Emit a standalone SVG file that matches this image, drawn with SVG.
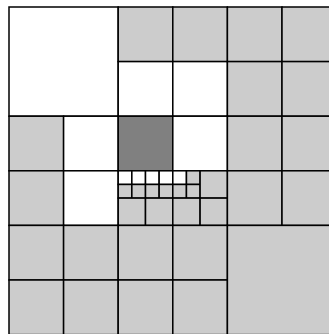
<svg xmlns="http://www.w3.org/2000/svg" width="329" height="334" viewBox="0 0 329 334">
<style>
rect{stroke:#000;stroke-width:1.5}
.w{fill:#fff}
.g{fill:#cccccc}
.d{fill:#808080}
</style>
<rect x="0" y="0" width="329" height="334" fill="#fff" style="stroke:none"/>
<g id="q-tl"><rect class="w" x="9" y="7" width="109.2" height="109.2"/></g>
<g id="q-tm">
<rect class="g" x="118.2" y="7" width="54.6" height="54.6"/>
<rect class="g" x="172.8" y="7" width="54.6" height="54.6"/>
<rect class="w" x="118.2" y="61.6" width="54.6" height="54.6"/>
<rect class="w" x="172.8" y="61.6" width="54.6" height="54.6"/>
</g>
<g id="q-tr">
<rect class="g" x="227.4" y="7" width="54.6" height="54.6"/>
<rect class="g" x="282" y="7" width="54.6" height="54.6"/>
<rect class="g" x="227.4" y="61.6" width="54.6" height="54.6"/>
<rect class="g" x="282" y="61.6" width="54.6" height="54.6"/>
</g>
<g id="q-ml">
<rect class="g" x="9" y="116.2" width="54.6" height="54.6"/>
<rect class="w" x="63.6" y="116.2" width="54.6" height="54.6"/>
<rect class="g" x="9" y="170.8" width="54.6" height="54.6"/>
<rect class="w" x="63.6" y="170.8" width="54.6" height="54.6"/>
</g>
<g id="q-mm">
<rect class="d" x="118.2" y="116.2" width="54.6" height="54.6"/>
<rect class="w" x="172.8" y="116.2" width="54.6" height="54.6"/>
</g>
<g id="q-mm-sub1">
<rect class="w" x="118.2" y="170.8" width="13.65" height="13.65"/>
<rect class="w" x="131.85" y="170.8" width="13.65" height="13.65"/>
<rect class="w" x="145.5" y="170.8" width="13.65" height="13.65"/>
<rect class="w" x="159.15" y="170.8" width="13.65" height="13.65"/>
<rect class="g" x="118.2" y="184.45" width="13.65" height="13.65"/>
<rect class="g" x="131.85" y="184.45" width="13.65" height="13.65"/>
<rect class="g" x="145.5" y="184.45" width="13.65" height="13.65"/>
<rect class="g" x="159.15" y="184.45" width="13.65" height="13.65"/>
<rect class="g" x="118.2" y="198.1" width="27.3" height="27.3"/>
<rect class="g" x="145.5" y="198.1" width="27.3" height="27.3"/>
</g>
<g id="q-mm-sub2">
<rect class="w" x="172.8" y="170.8" width="13.65" height="13.65"/>
<rect class="g" x="186.45" y="170.8" width="13.65" height="13.65"/>
<rect class="g" x="172.8" y="184.45" width="13.65" height="13.65"/>
<rect class="g" x="186.45" y="184.45" width="13.65" height="13.65"/>
<rect class="g" x="200.1" y="170.8" width="27.3" height="27.3"/>
<rect class="g" x="172.8" y="198.1" width="27.3" height="27.3"/>
<rect class="g" x="200.1" y="198.1" width="27.3" height="27.3"/>
</g>
<g id="q-mr">
<rect class="g" x="227.4" y="116.2" width="54.6" height="54.6"/>
<rect class="g" x="282" y="116.2" width="54.6" height="54.6"/>
<rect class="g" x="227.4" y="170.8" width="54.6" height="54.6"/>
<rect class="g" x="282" y="170.8" width="54.6" height="54.6"/>
</g>
<g id="q-bl">
<rect class="g" x="9" y="225.4" width="54.6" height="54.6"/>
<rect class="g" x="63.6" y="225.4" width="54.6" height="54.6"/>
<rect class="g" x="9" y="280" width="54.6" height="54.6"/>
<rect class="g" x="63.6" y="280" width="54.6" height="54.6"/>
</g>
<g id="q-bm">
<rect class="g" x="118.2" y="225.4" width="54.6" height="54.6"/>
<rect class="g" x="172.8" y="225.4" width="54.6" height="54.6"/>
<rect class="g" x="118.2" y="280" width="54.6" height="54.6"/>
<rect class="g" x="172.8" y="280" width="54.6" height="54.6"/>
</g>
<g id="q-br"><rect class="g" x="227.4" y="225.4" width="109.2" height="109.2"/></g>
<g id="connectors"/>
</svg>
